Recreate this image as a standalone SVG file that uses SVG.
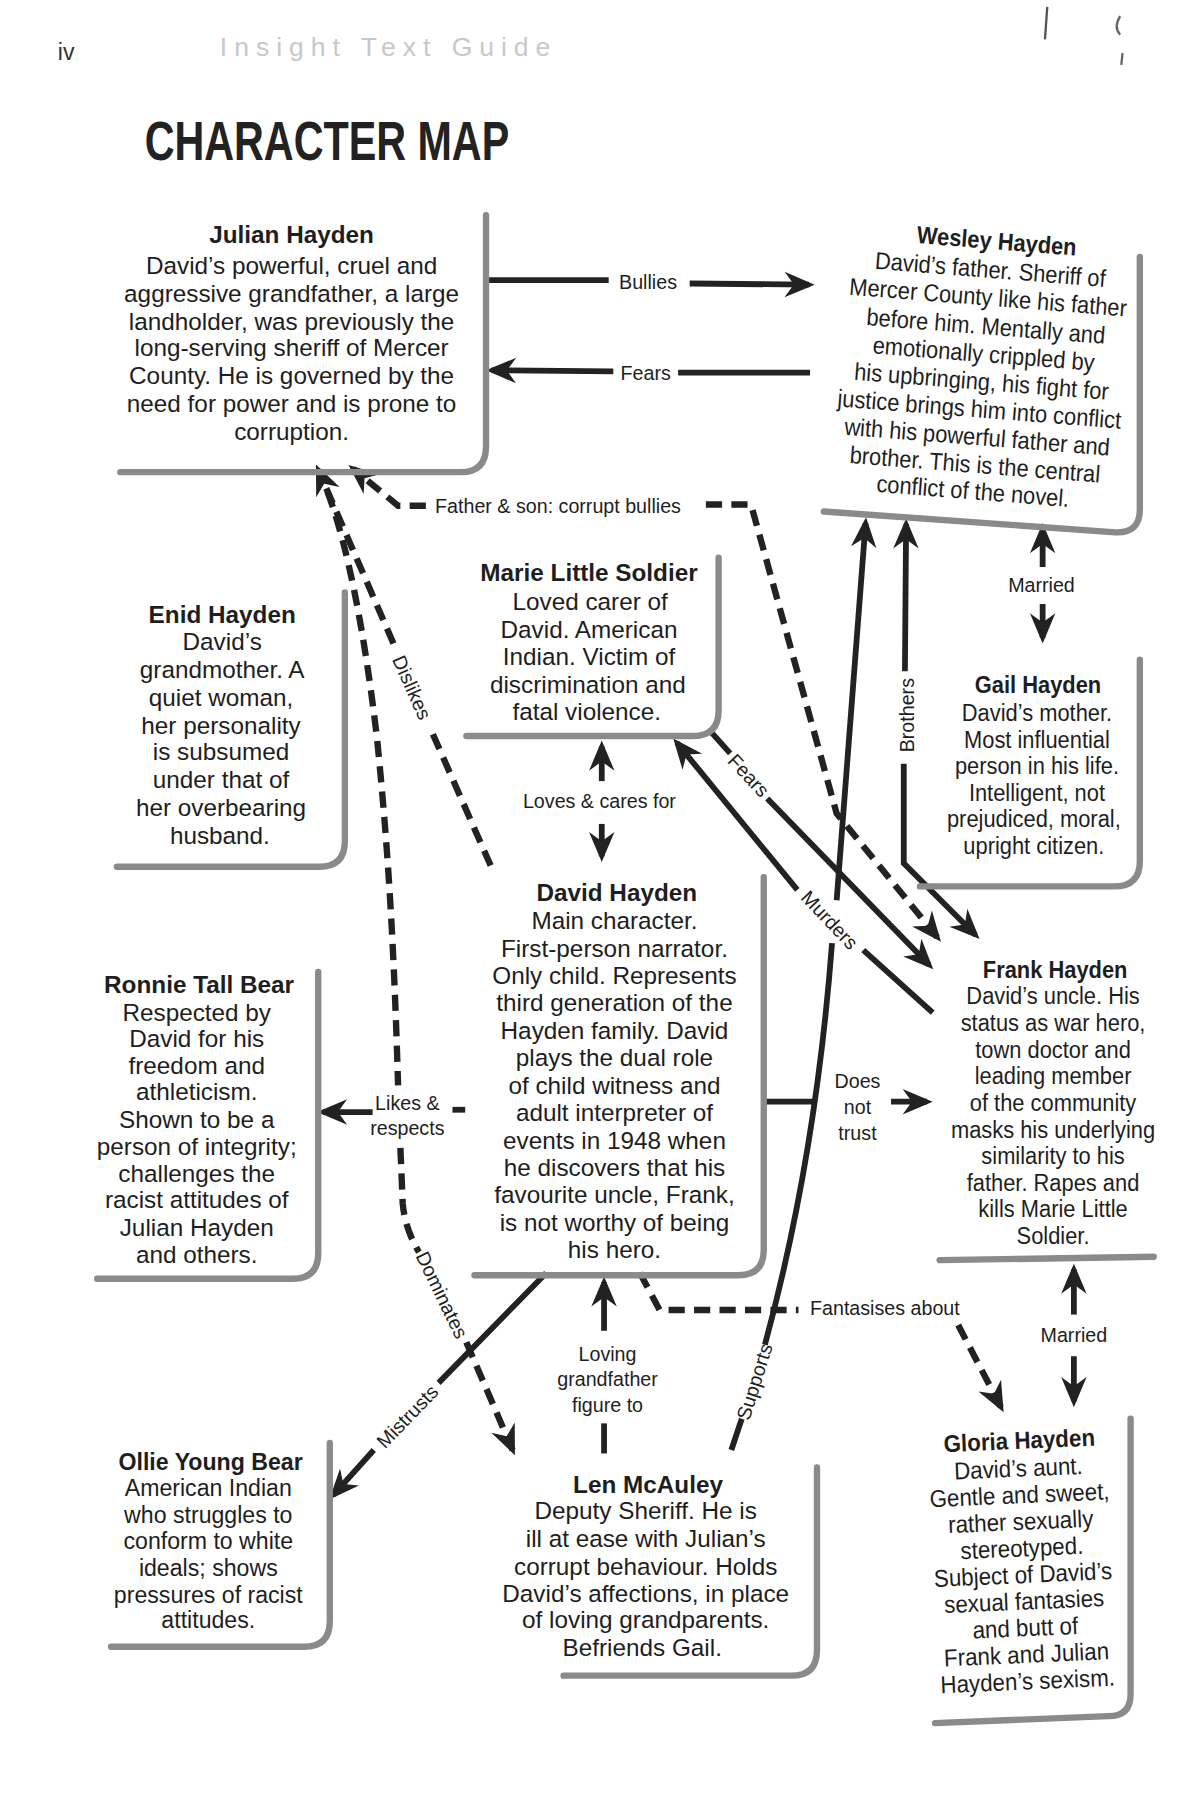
<svg xmlns="http://www.w3.org/2000/svg" width="1200" height="1815" viewBox="0 0 1200 1815">
<defs>
<style>
text{font-family:"Liberation Sans",Arial,sans-serif;fill:#1e1e1e}
.nm{font-size:21px;font-weight:bold;text-anchor:middle}
.bd{font-size:21px;text-anchor:middle}
.lb{font-size:17px;text-anchor:middle}
.bx{fill:none;stroke:#8a8a8a;stroke-width:5.5;stroke-linecap:round;stroke-linejoin:round}
.ln{fill:none;stroke:#222;stroke-width:5}
.dl{fill:none;stroke:#222;stroke-width:5.5;stroke-dasharray:14 8}
.ar{marker-end:url(#ah)}
</style>
<marker id="ah" markerUnits="userSpaceOnUse" orient="auto" refX="0" refY="0" markerWidth="40" markerHeight="40" overflow="visible" style="overflow:visible">
<path d="M5,0 L-21,-11 L-13,0 L-21,11 Z" fill="#222"/>
</marker>
</defs>
<rect width="1200" height="1815" fill="#ffffff"/>
<g transform="scale(1.1572)">
<g id="header">
<text x="50" y="52" style="font-size:20px;fill:#333">iv</text>
<text x="190" y="48" style="font-size:23px;fill:#c8c8c8;letter-spacing:6px">Insight Text Guide</text>
<text x="125" y="138" style="font-size:48px;font-weight:bold;fill:#222" textLength="315" lengthAdjust="spacingAndGlyphs">CHARACTER MAP</text>
<path d="M905,6 L903,34" fill="none" stroke="#555" stroke-width="2"/>
<path d="M968,14 Q962,24 968,30 M970,46 L969,56" fill="none" stroke="#666" stroke-width="2"/>
</g>

<g id="connectors">
<path class="ln" d="M420,242 L526,242"/>
<path class="ln ar" d="M596,245 L699,246"/>
<text class="lb" x="560" y="250">Bullies</text>
<path class="ln" d="M700,322 L586,322"/>
<path class="ln ar" d="M530,321 L425,320"/>
<text class="lb" x="558" y="328">Fears</text>
<path class="dl ar" d="M368,437 L344,437 L305,405"/>
<path class="dl ar" d="M610,436 L649,436 L723,703 L810,810"/>
<text x="376" y="443" style="font-size:17px">Father &amp; son: corrupt bullies</text>
<path class="dl" d="M424,748 L373,632"/>
<path class="dl ar" d="M340,556 L275,406"/>
<text class="lb" transform="translate(356,594) rotate(66)" y="6">Dislikes</text>
<path class="dl" d="M283,425 C300,470 315,545 326,640 C334,720 340,800 344,938"/>
<path class="dl" d="M346,992 L348,1040 Q350,1062 362,1082"/>
<path class="dl ar" d="M403,1160 L443,1253"/>
<text class="lb" transform="translate(382,1119) rotate(64)" y="6">Dominates</text>
<path class="ln" d="M402,959 L391,959"/>
<path class="ln ar" d="M322,961 L279,961"/>
<text class="lb" x="352" y="959">Likes &amp;</text>
<text class="lb" x="352" y="981">respects</text>
<path class="ln ar" d="M520,675 L520,645"/>
<path class="ln ar" d="M520,712 L520,740"/>
<text class="lb" x="518" y="698">Loves &amp; cares for</text>
<path class="ln ar" d="M901,490 L901,457"/>
<path class="ln ar" d="M901,522 L901,551"/>
<text class="lb" x="900" y="512">Married</text>
<path class="ln ar" d="M782,580 L783,453"/>
<path class="ln ar" d="M781,660 L781,746 L843,808"/>
<text class="lb" transform="translate(790,618) rotate(-90)">Brothers</text>
<path class="ln" d="M632,1253 L641,1226"/>
<path class="ln" d="M661,1162 Q705,1000 719,815"/>
<path class="ln ar" d="M723,778 L748,452"/>
<text class="lb" transform="translate(652,1194) rotate(-72.6)" y="6">Supports</text>
<path class="ln" d="M614,632 L631,651"/>
<path class="ln ar" d="M663,690 L803,834"/>
<text class="lb" transform="translate(647,670) rotate(47)" y="6">Fears</text>
<path class="ln" d="M806,875 L746,821"/>
<path class="ln ar" d="M689,769 L585,642"/>
<text class="lb" transform="translate(717,795) rotate(46.5)" y="6">Murders</text>
<path class="ln" d="M660,952 L705,952"/>
<path class="ln ar" d="M770,952 L801,952"/>
<text class="lb" x="741" y="940">Does</text>
<text class="lb" x="741" y="963">not</text>
<text class="lb" x="741" y="985">trust</text>
<path class="ln ar" d="M522,1150 L522,1108"/>
<path class="ln" d="M522,1230 L522,1256"/>
<text class="lb" x="525" y="1176">Loving</text>
<text class="lb" x="525" y="1198">grandfather</text>
<text class="lb" x="525" y="1220">figure to</text>
<path class="dl" d="M553,1100 L570,1132 L690,1132"/>
<path class="dl ar" d="M828,1145 L865,1216"/>
<text x="700" y="1136" style="font-size:17px">Fantasises about</text>
<path class="ln" d="M472,1100 L379,1195"/>
<path class="ln ar" d="M323,1253 L288,1292"/>
<text class="lb" transform="translate(352,1224) rotate(-46)" y="6">Mistrusts</text>
<path class="ln ar" d="M928,1136 L928,1097"/>
<path class="ln ar" d="M928,1172 L928,1211"/>
<text class="lb" x="928" y="1160">Married</text>
</g>

<g id="julian">
<path class="bx" d="M420,186 L420,386 Q420,408 398,408 L104,408"/>
<text class="nm" x="252" y="210">Julian Hayden</text>
<text class="bd" x="252" y="237">David’s powerful, cruel and</text>
<text class="bd" x="252" y="261">aggressive grandfather, a large</text>
<text class="bd" x="252" y="285">landholder, was previously the</text>
<text class="bd" x="252" y="308">long-serving sheriff of Mercer</text>
<text class="bd" x="252" y="332">County. He is governed by the</text>
<text class="bd" x="252" y="356">need for power and is prone to</text>
<text class="bd" x="252" y="380">corruption.</text>
</g>

<g id="wesley">
<path class="bx" d="M985,222 L985,440 Q985,461 964,460 L712,442"/>
<g transform="rotate(4.5,850,330) translate(850,0) scale(0.9,1) translate(-850,0)">
<text class="nm" x="852" y="215">Wesley Hayden</text>
<text class="bd" x="848" y="240">David’s father. Sheriff of</text>
<text class="bd" x="848" y="264">Mercer County like his father</text>
<text class="bd" x="848" y="289">before him. Mentally and</text>
<text class="bd" x="848" y="313">emotionally crippled by</text>
<text class="bd" x="848" y="337">his upbringing, his fight for</text>
<text class="bd" x="848" y="361">justice brings him into conflict</text>
<text class="bd" x="848" y="385">with his powerful father and</text>
<text class="bd" x="848" y="409">brother. This is the central</text>
<text class="bd" x="848" y="432">conflict of the novel.</text>
</g>
</g>

<g id="marie">
<path class="bx" d="M621,482 L621,614 Q621,636 599,636 L403,636"/>
<text class="nm" x="509" y="502">Marie Little Soldier</text>
<text class="bd" x="510" y="527">Loved carer of</text>
<text class="bd" x="509" y="551">David. American</text>
<text class="bd" x="509" y="575">Indian. Victim of</text>
<text class="bd" x="508" y="599">discrimination and</text>
<text class="bd" x="507" y="622">fatal violence.</text>
</g>

<g id="enid">
<path class="bx" d="M298,512 L298,727 Q298,749 276,749 L101,749"/>
<text class="nm" x="192" y="538">Enid Hayden</text>
<text class="bd" x="192" y="562">David’s</text>
<text class="bd" x="192" y="586">grandmother. A</text>
<text class="bd" x="191" y="610">quiet woman,</text>
<text class="bd" x="191" y="634">her personality</text>
<text class="bd" x="191" y="657">is subsumed</text>
<text class="bd" x="191" y="681">under that of</text>
<text class="bd" x="191" y="705">her overbearing</text>
<text class="bd" x="190" y="729">husband.</text>
</g>

<g id="david">
<path class="bx" d="M660,758 L660,1080 Q660,1102 638,1102 L410,1102"/>
<text class="nm" x="533" y="779">David Hayden</text>
<text class="bd" x="531" y="803">Main character.</text>
<text class="bd" x="531" y="827">First-person narrator.</text>
<text class="bd" x="531" y="850">Only child. Represents</text>
<text class="bd" x="531" y="874">third generation of the</text>
<text class="bd" x="531" y="898">Hayden family. David</text>
<text class="bd" x="531" y="921">plays the dual role</text>
<text class="bd" x="531" y="945">of child witness and</text>
<text class="bd" x="531" y="969">adult interpreter of</text>
<text class="bd" x="531" y="993">events in 1948 when</text>
<text class="bd" x="531" y="1016">he discovers that his</text>
<text class="bd" x="531" y="1040">favourite uncle, Frank,</text>
<text class="bd" x="531" y="1064">is not worthy of being</text>
<text class="bd" x="531" y="1087">his hero.</text>
</g>

<g id="gail">
<path class="bx" d="M985,570 L985,744 Q985,766 963,766 L795,766"/>
<g transform="translate(897,0) scale(0.9,1) translate(-897,0)">
<text class="nm" x="897" y="599">Gail Hayden</text>
<text class="bd" x="896" y="623">David’s mother.</text>
<text class="bd" x="896" y="646">Most influential</text>
<text class="bd" x="896" y="669">person in his life.</text>
<text class="bd" x="896" y="692">Intelligent, not</text>
<text class="bd" x="893" y="715">prejudiced, moral,</text>
<text class="bd" x="893" y="738">upright citizen.</text>
</g>
</g>

<g id="ronnie">
<path class="bx" d="M275,840 L275,1083 Q275,1105 253,1105 L84,1105"/>
<text class="nm" x="172" y="858">Ronnie Tall Bear</text>
<text class="bd" x="170" y="882">Respected by</text>
<text class="bd" x="170" y="905">David for his</text>
<text class="bd" x="170" y="928">freedom and</text>
<text class="bd" x="170" y="951">athleticism.</text>
<text class="bd" x="170" y="975">Shown to be a</text>
<text class="bd" x="170" y="998">person of integrity;</text>
<text class="bd" x="170" y="1021">challenges the</text>
<text class="bd" x="170" y="1044">racist attitudes of</text>
<text class="bd" x="170" y="1068">Julian Hayden</text>
<text class="bd" x="170" y="1091">and others.</text>
</g>

<g id="frank">
<path class="bx" d="M812,1089 L997,1086"/>
<g transform="translate(910,0) scale(0.9,1) translate(-910,0)">
<text class="nm" x="912" y="845">Frank Hayden</text>
<text class="bd" x="910" y="868">David’s uncle. His</text>
<text class="bd" x="910" y="891">status as war hero,</text>
<text class="bd" x="910" y="914">town doctor and</text>
<text class="bd" x="910" y="937">leading member</text>
<text class="bd" x="910" y="960">of the community</text>
<text class="bd" x="910" y="983">masks his underlying</text>
<text class="bd" x="910" y="1006">similarity to his</text>
<text class="bd" x="910" y="1029">father. Rapes and</text>
<text class="bd" x="910" y="1052">kills Marie Little</text>
<text class="bd" x="910" y="1075">Soldier.</text>
</g>
</g>

<g id="ollie">
<path class="bx" d="M285,1247 L285,1401 Q285,1423 263,1423 L96,1423"/>
<text class="nm" x="182" y="1270" style="font-size:20px">Ollie Young Bear</text>
<text class="bd" x="180" y="1293" style="font-size:20px">American Indian</text>
<text class="bd" x="180" y="1316" style="font-size:20px">who struggles to</text>
<text class="bd" x="180" y="1339" style="font-size:20px">conform to white</text>
<text class="bd" x="180" y="1362" style="font-size:20px">ideals; shows</text>
<text class="bd" x="180" y="1385" style="font-size:20px">pressures of racist</text>
<text class="bd" x="180" y="1407" style="font-size:20px">attitudes.</text>
</g>

<g id="len">
<path class="bx" d="M706,1268 L706,1426 Q706,1448 684,1448 L487,1448"/>
<text class="nm" x="560" y="1290">Len McAuley</text>
<text class="bd" x="558" y="1313">Deputy Sheriff. He is</text>
<text class="bd" x="558" y="1337">ill at ease with Julian’s</text>
<text class="bd" x="558" y="1361">corrupt behaviour. Holds</text>
<text class="bd" x="558" y="1384">David’s affections, in place</text>
<text class="bd" x="558" y="1407">of loving grandparents.</text>
<text class="bd" x="555" y="1431">Befriends Gail.</text>
</g>

<g id="gloria">
<path class="bx" d="M977,1226 L977,1464 Q977,1483 958,1483 L808,1489"/>
<g transform="rotate(-2.5,884,1360) translate(884,0) scale(0.92,1) translate(-884,0)">
<text class="nm" x="886" y="1252">Gloria Hayden</text>
<text class="bd" x="884" y="1276">David’s aunt.</text>
<text class="bd" x="884" y="1299">Gentle and sweet,</text>
<text class="bd" x="884" y="1322">rather sexually</text>
<text class="bd" x="884" y="1345">stereotyped.</text>
<text class="bd" x="884" y="1368">Subject of David’s</text>
<text class="bd" x="884" y="1391">sexual fantasies</text>
<text class="bd" x="884" y="1414">and butt of</text>
<text class="bd" x="884" y="1437">Frank and Julian</text>
<text class="bd" x="884" y="1460">Hayden’s sexism.</text>
</g>
</g>
</g>
</svg>
